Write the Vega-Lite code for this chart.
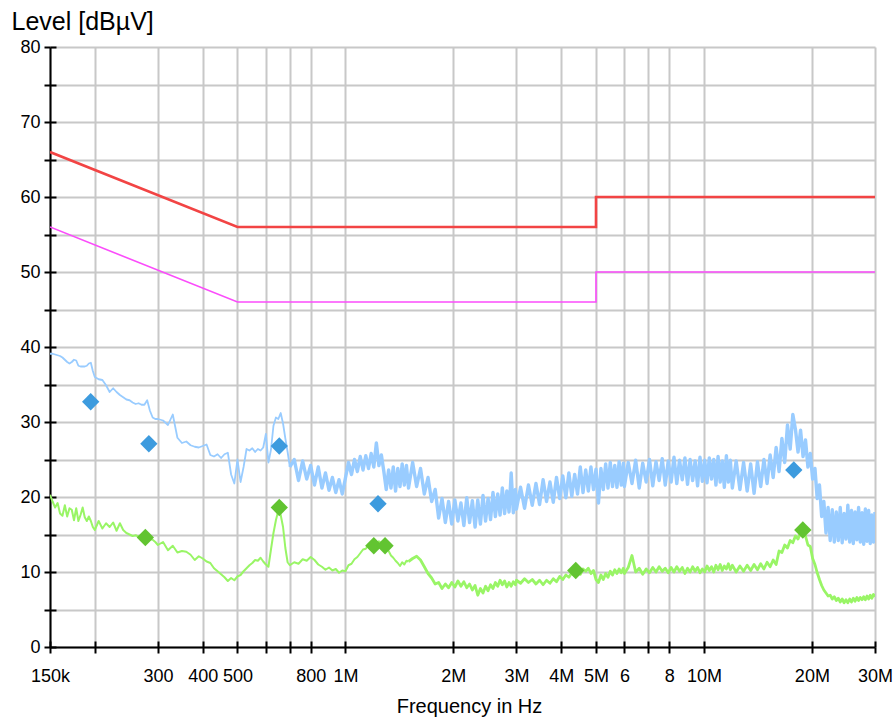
{
  "$schema": "https://vega.github.io/schema/vega-lite/v6.json",
  "width": 825,
  "height": 600,
  "autosize": {"type": "none"},
  "padding": {"left": 50, "top": 47, "right": 18, "bottom": 70},
  "background": "white",
  "config": {
    "view": {"stroke": null},
    "font": "Liberation Sans"
  },
  "datasets": {
    "limits": [
      {"i": 1, "f": 150000, "qp": 66, "av": 56},
      {"i": 2, "f": 500000, "qp": 56, "av": 46},
      {"i": 3, "f": 5000000, "qp": 56, "av": 46},
      {"i": 4, "f": 5000000, "qp": 60, "av": 50},
      {"i": 5, "f": 30000000, "qp": 60, "av": 50}
    ],
    "finals": [
      {"f": 194800, "lvl": 32.7, "det": "QuasiPeak"},
      {"f": 283000, "lvl": 27.1, "det": "QuasiPeak"},
      {"f": 654000, "lvl": 26.8, "det": "QuasiPeak"},
      {"f": 1233000, "lvl": 19.1, "det": "QuasiPeak"},
      {"f": 17810000, "lvl": 23.6, "det": "QuasiPeak"},
      {"f": 276700, "lvl": 14.6, "det": "Average"},
      {"f": 654000, "lvl": 18.6, "det": "Average"},
      {"f": 1200000, "lvl": 13.5, "det": "Average"},
      {"f": 1290000, "lvl": 13.5, "det": "Average"},
      {"f": 4390000, "lvl": 10.2, "det": "Average"},
      {"f": 18870000, "lvl": 15.6, "det": "Average"}
    ],
    "scan": [
      {"f": 150000, "pk": 39.1, "av": 20.3},
      {"f": 152500, "pk": 39.1, "av": 19.4},
      {"f": 155000, "pk": 39.0, "av": 18.6},
      {"f": 157500, "pk": 38.9, "av": 19.2},
      {"f": 160000, "pk": 38.8, "av": 17.8},
      {"f": 162500, "pk": 38.6, "av": 17.5},
      {"f": 165000, "pk": 38.3, "av": 18.9},
      {"f": 167500, "pk": 38.0, "av": 17.4},
      {"f": 170000, "pk": 37.8, "av": 18.5},
      {"f": 172500, "pk": 38.0, "av": 18.3},
      {"f": 175000, "pk": 38.3, "av": 16.9},
      {"f": 177500, "pk": 38.2, "av": 18.5},
      {"f": 180000, "pk": 37.5, "av": 16.8},
      {"f": 182500, "pk": 37.4, "av": 17.6},
      {"f": 185000, "pk": 37.4, "av": 18.6},
      {"f": 187500, "pk": 37.4, "av": 17.3},
      {"f": 190000, "pk": 37.5, "av": 16.8},
      {"f": 192500, "pk": 37.8, "av": 17.4},
      {"f": 195000, "pk": 37.9, "av": 16.8},
      {"f": 197500, "pk": 36.8, "av": 16.0},
      {"f": 200000, "pk": 36.0, "av": 15.6},
      {"f": 205000, "pk": 35.7, "av": 16.8},
      {"f": 210000, "pk": 35.6, "av": 15.8},
      {"f": 215000, "pk": 34.9, "av": 16.5},
      {"f": 220000, "pk": 34.0, "av": 16.0},
      {"f": 225000, "pk": 34.5, "av": 16.6},
      {"f": 230000, "pk": 34.0, "av": 15.5},
      {"f": 235000, "pk": 33.6, "av": 16.5},
      {"f": 240000, "pk": 33.3, "av": 15.6},
      {"f": 245000, "pk": 33.0, "av": 15.2},
      {"f": 250000, "pk": 32.9, "av": 15.0},
      {"f": 255000, "pk": 32.6, "av": 14.8},
      {"f": 260000, "pk": 32.4, "av": 14.9},
      {"f": 265000, "pk": 32.5, "av": 14.7},
      {"f": 270000, "pk": 32.3, "av": 14.8},
      {"f": 275000, "pk": 32.3, "av": 14.7},
      {"f": 280000, "pk": 32.9, "av": 14.6},
      {"f": 285000, "pk": 31.5, "av": 14.4},
      {"f": 290000, "pk": 30.6, "av": 14.3},
      {"f": 295000, "pk": 30.4, "av": 14.0},
      {"f": 300000, "pk": 30.4, "av": 13.6},
      {"f": 310000, "pk": 30.2, "av": 14.0},
      {"f": 320000, "pk": 29.6, "av": 12.9},
      {"f": 330000, "pk": 31.0, "av": 13.5},
      {"f": 340000, "pk": 27.9, "av": 12.6},
      {"f": 350000, "pk": 27.2, "av": 12.8},
      {"f": 360000, "pk": 27.4, "av": 12.7},
      {"f": 370000, "pk": 26.9, "av": 12.3},
      {"f": 380000, "pk": 26.7, "av": 11.6},
      {"f": 390000, "pk": 26.6, "av": 12.1},
      {"f": 400000, "pk": 26.8, "av": 11.8},
      {"f": 410000, "pk": 27.0, "av": 11.4},
      {"f": 420000, "pk": 25.6, "av": 11.2},
      {"f": 430000, "pk": 25.4, "av": 10.5},
      {"f": 440000, "pk": 25.7, "av": 10.1},
      {"f": 450000, "pk": 25.2, "av": 9.7},
      {"f": 460000, "pk": 25.7, "av": 9.3},
      {"f": 470000, "pk": 25.9, "av": 8.8},
      {"f": 480000, "pk": 23.0, "av": 9.2},
      {"f": 490000, "pk": 21.8, "av": 8.9},
      {"f": 500000, "pk": 25.0, "av": 9.4},
      {"f": 510000, "pk": 22.0, "av": 9.6},
      {"f": 520000, "pk": 24.0, "av": 10.1},
      {"f": 530000, "pk": 26.4, "av": 10.5},
      {"f": 540000, "pk": 26.2, "av": 10.9},
      {"f": 550000, "pk": 26.5, "av": 11.2},
      {"f": 560000, "pk": 26.0, "av": 11.6},
      {"f": 570000, "pk": 26.4, "av": 11.5},
      {"f": 580000, "pk": 26.2, "av": 11.9},
      {"f": 590000, "pk": 26.6, "av": 11.4},
      {"f": 600000, "pk": 28.4, "av": 11.0},
      {"f": 610000, "pk": 24.6, "av": 10.7},
      {"f": 620000, "pk": 26.3, "av": 13.0},
      {"f": 630000, "pk": 29.5, "av": 15.2},
      {"f": 640000, "pk": 30.6, "av": 16.9},
      {"f": 650000, "pk": 30.4, "av": 18.2},
      {"f": 660000, "pk": 31.2, "av": 17.6},
      {"f": 670000, "pk": 29.8, "av": 16.0},
      {"f": 680000, "pk": 27.8, "av": 13.2},
      {"f": 690000, "pk": 26.0, "av": 11.3},
      {"f": 700000, "pk": 24.0, "av": 10.9},
      {"f": 720000, "pk": 25.0, "av": 11.3},
      {"f": 740000, "pk": 22.2, "av": 11.1},
      {"f": 760000, "pk": 24.8, "av": 11.7},
      {"f": 780000, "pk": 22.4, "av": 11.5},
      {"f": 800000, "pk": 24.2, "av": 12.0},
      {"f": 820000, "pk": 21.6, "av": 11.6},
      {"f": 840000, "pk": 24.0, "av": 11.0},
      {"f": 860000, "pk": 21.2, "av": 10.7},
      {"f": 880000, "pk": 23.2, "av": 10.3},
      {"f": 900000, "pk": 20.9, "av": 10.6},
      {"f": 920000, "pk": 22.6, "av": 10.2},
      {"f": 940000, "pk": 20.6, "av": 10.4},
      {"f": 960000, "pk": 22.3, "av": 9.9},
      {"f": 980000, "pk": 20.4, "av": 10.2},
      {"f": 1000000, "pk": 22.5, "av": 10.1},
      {"f": 1020000, "pk": 24.6, "av": 10.9},
      {"f": 1040000, "pk": 23.0, "av": 11.1},
      {"f": 1060000, "pk": 25.0, "av": 11.7},
      {"f": 1080000, "pk": 23.4, "av": 12.0},
      {"f": 1100000, "pk": 25.4, "av": 12.5},
      {"f": 1120000, "pk": 23.6, "av": 13.0},
      {"f": 1140000, "pk": 25.5, "av": 13.1},
      {"f": 1160000, "pk": 23.8, "av": 13.6},
      {"f": 1180000, "pk": 25.8, "av": 13.8},
      {"f": 1200000, "pk": 24.0, "av": 14.0},
      {"f": 1220000, "pk": 27.2, "av": 13.9},
      {"f": 1240000, "pk": 24.2, "av": 14.1},
      {"f": 1260000, "pk": 25.6, "av": 13.8},
      {"f": 1280000, "pk": 23.4, "av": 13.9},
      {"f": 1300000, "pk": 21.0, "av": 13.2},
      {"f": 1320000, "pk": 23.6, "av": 12.8},
      {"f": 1340000, "pk": 21.2, "av": 12.2},
      {"f": 1360000, "pk": 24.0, "av": 11.9},
      {"f": 1380000, "pk": 20.8, "av": 11.5},
      {"f": 1400000, "pk": 23.8, "av": 11.2},
      {"f": 1420000, "pk": 21.4, "av": 10.8},
      {"f": 1440000, "pk": 24.4, "av": 11.3},
      {"f": 1460000, "pk": 21.6, "av": 11.0},
      {"f": 1480000, "pk": 24.2, "av": 11.5},
      {"f": 1500000, "pk": 21.2, "av": 11.4},
      {"f": 1540000, "pk": 24.6, "av": 11.8},
      {"f": 1580000, "pk": 21.4, "av": 12.1},
      {"f": 1620000, "pk": 23.8, "av": 11.6},
      {"f": 1660000, "pk": 20.4, "av": 10.7},
      {"f": 1700000, "pk": 22.6, "av": 9.8},
      {"f": 1740000, "pk": 19.4, "av": 9.2},
      {"f": 1780000, "pk": 21.0, "av": 8.4},
      {"f": 1820000, "pk": 17.2, "av": 8.6},
      {"f": 1860000, "pk": 19.8, "av": 7.8},
      {"f": 1900000, "pk": 16.6, "av": 8.4},
      {"f": 1940000, "pk": 19.4, "av": 7.9},
      {"f": 1980000, "pk": 16.4, "av": 8.6},
      {"f": 2020000, "pk": 19.6, "av": 8.0},
      {"f": 2060000, "pk": 16.8, "av": 8.8},
      {"f": 2100000, "pk": 19.2, "av": 8.1},
      {"f": 2140000, "pk": 16.2, "av": 8.7},
      {"f": 2180000, "pk": 19.9, "av": 7.9},
      {"f": 2220000, "pk": 16.6, "av": 8.4},
      {"f": 2260000, "pk": 19.5, "av": 7.6},
      {"f": 2300000, "pk": 16.0, "av": 8.2},
      {"f": 2340000, "pk": 19.6, "av": 6.9},
      {"f": 2380000, "pk": 16.4, "av": 7.8},
      {"f": 2420000, "pk": 20.2, "av": 7.2},
      {"f": 2460000, "pk": 16.8, "av": 8.1},
      {"f": 2500000, "pk": 19.8, "av": 7.5},
      {"f": 2540000, "pk": 17.0, "av": 8.3},
      {"f": 2580000, "pk": 20.6, "av": 7.8},
      {"f": 2620000, "pk": 17.4, "av": 8.6},
      {"f": 2660000, "pk": 20.4, "av": 8.1},
      {"f": 2700000, "pk": 17.6, "av": 8.9},
      {"f": 2740000, "pk": 21.2, "av": 8.3},
      {"f": 2780000, "pk": 17.8, "av": 8.8},
      {"f": 2820000, "pk": 20.8, "av": 8.0},
      {"f": 2860000, "pk": 18.0, "av": 8.6},
      {"f": 2900000, "pk": 23.2, "av": 8.1},
      {"f": 2940000, "pk": 17.9, "av": 8.7},
      {"f": 2980000, "pk": 21.0, "av": 8.3},
      {"f": 3000000, "pk": 18.4, "av": 8.9},
      {"f": 3080000, "pk": 21.3, "av": 8.5},
      {"f": 3160000, "pk": 18.5, "av": 9.1},
      {"f": 3240000, "pk": 21.6, "av": 8.6},
      {"f": 3320000, "pk": 18.9, "av": 9.0},
      {"f": 3400000, "pk": 21.8, "av": 8.4},
      {"f": 3480000, "pk": 19.0, "av": 8.9},
      {"f": 3560000, "pk": 22.3, "av": 8.3},
      {"f": 3640000, "pk": 19.4, "av": 8.9},
      {"f": 3720000, "pk": 22.0, "av": 8.5},
      {"f": 3800000, "pk": 19.3, "av": 9.1},
      {"f": 3880000, "pk": 22.6, "av": 8.7},
      {"f": 3960000, "pk": 19.8, "av": 9.4},
      {"f": 4040000, "pk": 22.8, "av": 9.0},
      {"f": 4120000, "pk": 19.9, "av": 9.6},
      {"f": 4200000, "pk": 23.2, "av": 9.3},
      {"f": 4280000, "pk": 20.1, "av": 9.9},
      {"f": 4360000, "pk": 23.0, "av": 9.5},
      {"f": 4440000, "pk": 20.4, "av": 10.0},
      {"f": 4520000, "pk": 24.0, "av": 9.7},
      {"f": 4600000, "pk": 20.6, "av": 10.4},
      {"f": 4680000, "pk": 23.6, "av": 10.1},
      {"f": 4760000, "pk": 20.8, "av": 10.5},
      {"f": 4840000, "pk": 24.0, "av": 9.8},
      {"f": 4920000, "pk": 21.0, "av": 10.2},
      {"f": 5000000, "pk": 23.7, "av": 9.0},
      {"f": 5080000, "pk": 19.2, "av": 8.6},
      {"f": 5160000, "pk": 23.8, "av": 9.6},
      {"f": 5240000, "pk": 21.0, "av": 9.0},
      {"f": 5320000, "pk": 24.4, "av": 9.8},
      {"f": 5400000, "pk": 21.2, "av": 9.3},
      {"f": 5480000, "pk": 24.6, "av": 10.1},
      {"f": 5560000, "pk": 21.4, "av": 9.6},
      {"f": 5640000, "pk": 24.2, "av": 10.3},
      {"f": 5720000, "pk": 21.3, "av": 9.8},
      {"f": 5800000, "pk": 24.7, "av": 10.4},
      {"f": 5880000, "pk": 21.6, "av": 9.9},
      {"f": 5960000, "pk": 24.5, "av": 10.5},
      {"f": 6000000, "pk": 21.4, "av": 9.8},
      {"f": 6150000, "pk": 24.6, "av": 10.6},
      {"f": 6300000, "pk": 21.8, "av": 12.2},
      {"f": 6450000, "pk": 24.9, "av": 10.0},
      {"f": 6600000, "pk": 21.2, "av": 10.5},
      {"f": 6750000, "pk": 24.5, "av": 9.7},
      {"f": 6900000, "pk": 22.0, "av": 10.4},
      {"f": 7050000, "pk": 25.0, "av": 9.9},
      {"f": 7200000, "pk": 21.5, "av": 10.6},
      {"f": 7350000, "pk": 24.7, "av": 10.0},
      {"f": 7500000, "pk": 22.2, "av": 10.7},
      {"f": 7650000, "pk": 25.1, "av": 10.1},
      {"f": 7800000, "pk": 21.6, "av": 10.5},
      {"f": 7950000, "pk": 24.8, "av": 9.9},
      {"f": 8100000, "pk": 22.0, "av": 10.6},
      {"f": 8250000, "pk": 25.3, "av": 10.0},
      {"f": 8400000, "pk": 21.8, "av": 10.7},
      {"f": 8550000, "pk": 24.9, "av": 10.1},
      {"f": 8700000, "pk": 22.3, "av": 10.6},
      {"f": 8850000, "pk": 25.2, "av": 9.8},
      {"f": 9000000, "pk": 21.7, "av": 10.5},
      {"f": 9150000, "pk": 25.0, "av": 10.0},
      {"f": 9300000, "pk": 22.2, "av": 10.7},
      {"f": 9450000, "pk": 24.8, "av": 10.1},
      {"f": 9600000, "pk": 21.5, "av": 10.6},
      {"f": 9750000, "pk": 25.3, "av": 9.9},
      {"f": 9900000, "pk": 22.1, "av": 10.4},
      {"f": 10050000, "pk": 24.9, "av": 10.0},
      {"f": 10200000, "pk": 21.9, "av": 10.8},
      {"f": 10350000, "pk": 25.2, "av": 10.2},
      {"f": 10500000, "pk": 22.4, "av": 10.7},
      {"f": 10650000, "pk": 25.0, "av": 10.0},
      {"f": 10800000, "pk": 21.6, "av": 10.9},
      {"f": 10950000, "pk": 25.4, "av": 10.3},
      {"f": 11100000, "pk": 22.0, "av": 11.0},
      {"f": 11250000, "pk": 24.8, "av": 10.2},
      {"f": 11400000, "pk": 21.3, "av": 10.8},
      {"f": 11550000, "pk": 25.5, "av": 10.4},
      {"f": 11700000, "pk": 22.0, "av": 11.1},
      {"f": 11850000, "pk": 24.9, "av": 10.3},
      {"f": 12000000, "pk": 21.2, "av": 10.9},
      {"f": 12300000, "pk": 24.8, "av": 10.0},
      {"f": 12600000, "pk": 21.0, "av": 10.8},
      {"f": 12900000, "pk": 24.6, "av": 10.1},
      {"f": 13200000, "pk": 20.8, "av": 10.9},
      {"f": 13500000, "pk": 24.4, "av": 10.2},
      {"f": 13800000, "pk": 20.5, "av": 11.0},
      {"f": 14100000, "pk": 24.7, "av": 10.3},
      {"f": 14400000, "pk": 21.4, "av": 11.1},
      {"f": 14700000, "pk": 25.0, "av": 10.4},
      {"f": 15000000, "pk": 21.8, "av": 11.3},
      {"f": 15300000, "pk": 25.6, "av": 10.7},
      {"f": 15600000, "pk": 22.6, "av": 11.6},
      {"f": 15900000, "pk": 26.6, "av": 11.0},
      {"f": 16200000, "pk": 23.4, "av": 12.8},
      {"f": 16500000, "pk": 27.8, "av": 12.6},
      {"f": 16800000, "pk": 24.6, "av": 13.6},
      {"f": 17100000, "pk": 29.6, "av": 13.2},
      {"f": 17400000, "pk": 26.4, "av": 14.2},
      {"f": 17700000, "pk": 31.0, "av": 13.9},
      {"f": 18000000, "pk": 29.0, "av": 14.8},
      {"f": 18300000, "pk": 26.0, "av": 14.4},
      {"f": 18600000, "pk": 28.9, "av": 15.3},
      {"f": 18900000, "pk": 25.4, "av": 14.9},
      {"f": 19200000, "pk": 27.6, "av": 14.8},
      {"f": 19500000, "pk": 24.0, "av": 13.6},
      {"f": 19800000, "pk": 25.8, "av": 13.4},
      {"f": 20100000, "pk": 22.4, "av": 11.8},
      {"f": 20400000, "pk": 23.8, "av": 11.0},
      {"f": 20700000, "pk": 19.8, "av": 9.9},
      {"f": 21000000, "pk": 21.6, "av": 9.0},
      {"f": 21300000, "pk": 17.4, "av": 8.2},
      {"f": 21600000, "pk": 19.4, "av": 7.6},
      {"f": 21900000, "pk": 15.2, "av": 7.2},
      {"f": 22200000, "pk": 18.6, "av": 6.8},
      {"f": 22500000, "pk": 14.2, "av": 6.9},
      {"f": 22800000, "pk": 18.3, "av": 6.4},
      {"f": 23100000, "pk": 14.0, "av": 6.7},
      {"f": 23400000, "pk": 18.0, "av": 6.2},
      {"f": 23700000, "pk": 14.2, "av": 6.5},
      {"f": 24000000, "pk": 18.6, "av": 6.0},
      {"f": 24300000, "pk": 13.9, "av": 6.4},
      {"f": 24600000, "pk": 17.8, "av": 5.9},
      {"f": 24900000, "pk": 14.4, "av": 6.3},
      {"f": 25200000, "pk": 18.9, "av": 5.9},
      {"f": 25500000, "pk": 14.0, "av": 6.4},
      {"f": 25800000, "pk": 18.2, "av": 6.0},
      {"f": 26100000, "pk": 13.8, "av": 6.5},
      {"f": 26400000, "pk": 18.0, "av": 6.1},
      {"f": 26700000, "pk": 14.3, "av": 6.6},
      {"f": 27000000, "pk": 18.6, "av": 6.2},
      {"f": 27300000, "pk": 14.0, "av": 6.6},
      {"f": 27600000, "pk": 17.9, "av": 6.3},
      {"f": 27900000, "pk": 13.7, "av": 6.7},
      {"f": 28200000, "pk": 18.4, "av": 6.3},
      {"f": 28500000, "pk": 14.1, "av": 6.8},
      {"f": 28800000, "pk": 18.2, "av": 6.4},
      {"f": 29100000, "pk": 13.8, "av": 6.9},
      {"f": 29400000, "pk": 17.6, "av": 6.5},
      {"f": 29700000, "pk": 14.0, "av": 7.0},
      {"f": 30000000, "pk": 18.0, "av": 6.7}
    ]
  },
  "layer": [
    {
      "data": {"name": "limits"},
      "mark": {"type": "line", "color": "#f24444", "strokeWidth": 2.6, "clip": true},
      "encoding": {
        "x": {
          "field": "f",
          "type": "quantitative",
          "scale": {"type": "log", "domain": [150000, 30000000], "nice": false},
          "axis": {
            "orient": "bottom",
            "values": [150000, 200000, 300000, 400000, 500000, 600000, 700000, 800000, 1000000, 2000000, 3000000, 4000000, 5000000, 6000000, 7000000, 8000000, 10000000, 20000000, 30000000],
            "labelExpr": "datum.value == 150000 ? '150k' : datum.value == 300000 ? '300' : datum.value == 400000 ? '400' : datum.value == 500000 ? '500' : datum.value == 800000 ? '800' : datum.value == 1000000 ? '1M' : datum.value == 2000000 ? '2M' : datum.value == 3000000 ? '3M' : datum.value == 4000000 ? '4M' : datum.value == 5000000 ? '5M' : datum.value == 6000000 ? '6' : datum.value == 8000000 ? '8' : datum.value == 10000000 ? '10M' : datum.value == 20000000 ? '20M' : datum.value == 30000000 ? '30M' : ''",
            "labelOverlap": false,
            "labelFlush": false,
            "labelBound": false,
            "labelFont": "Liberation Sans",
            "labelFontSize": 18,
            "labelColor": "#000000",
            "labelPadding": 14,
            "tickSize": 6,
            "tickColor": "#000000",
            "tickWidth": 2,
            "domainColor": "#000000",
            "domainWidth": 2,
            "grid": true,
            "gridColor": "#c8c8c8",
            "gridWidth": 2,
            "title": "Frequency in Hz",
            "titleFont": "Liberation Sans",
            "titleFontSize": 20,
            "titleFontWeight": "normal",
            "titleColor": "#000000",
            "titleBaseline": "alphabetic",
            "titleX": 419,
            "titleY": 65
          }
        },
        "y": {
          "field": "qp",
          "type": "quantitative",
          "scale": {"domain": [0, 80], "nice": false},
          "axis": {
            "orient": "left",
            "values": [0, 5, 10, 15, 20, 25, 30, 35, 40, 45, 50, 55, 60, 65, 70, 75, 80],
            "labelExpr": "datum.value % 10 == 0 ? datum.label : ''",
            "labelOverlap": false,
            "labelFlush": false,
            "labelFont": "Liberation Sans",
            "labelFontSize": 18,
            "labelColor": "#000000",
            "labelPadding": 4,
            "tickSize": 6,
            "tickColor": "#000000",
            "tickWidth": 2,
            "domainColor": "#000000",
            "domainWidth": 2,
            "grid": true,
            "gridColor": "#c8c8c8",
            "gridWidth": 2,
            "title": "Level [dBµV]",
            "titleFont": "Liberation Sans",
            "titleFontSize": 25,
            "titleFontWeight": "normal",
            "titleColor": "#000000",
            "titleAngle": 0,
            "titleAlign": "left",
            "titleBaseline": "alphabetic",
            "titleX": -39,
            "titleY": -18
          }
        },
        "order": {"field": "i"}
      }
    },
    {
      "data": {"name": "limits"},
      "mark": {"type": "line", "color": "#fb4cfb", "strokeWidth": 1.6, "clip": true},
      "encoding": {
        "x": {
          "field": "f",
          "type": "quantitative",
          "axis": {
            "orient": "bottom",
            "values": [150000, 200000, 300000, 400000, 500000, 600000, 700000, 800000, 1000000, 2000000, 3000000, 4000000, 5000000, 6000000, 7000000, 8000000, 10000000, 20000000, 30000000],
            "labels": false,
            "domain": false,
            "grid": false,
            "title": null,
            "tickSize": -6,
            "tickColor": "#000000",
            "tickWidth": 2
          }
        },
        "y": {
          "field": "av",
          "type": "quantitative",
          "axis": {
            "orient": "left",
            "values": [0, 5, 10, 15, 20, 25, 30, 35, 40, 45, 50, 55, 60, 65, 70, 75, 80],
            "labels": false,
            "domain": false,
            "grid": false,
            "title": null,
            "tickSize": -6,
            "tickColor": "#000000",
            "tickWidth": 2
          }
        },
        "order": {"field": "i"}
      }
    },
    {
      "data": {"name": "scan"},
      "transform": [{"filter": "datum.f <= 700000"}],
      "mark": {"type": "line", "color": "#99ccff", "strokeWidth": 1.8, "strokeJoin": "round", "clip": true},
      "encoding": {
        "x": {"field": "f", "type": "quantitative", "axis": null},
        "y": {"field": "pk", "type": "quantitative", "axis": null}
      }
    },
    {
      "data": {"name": "scan"},
      "transform": [{"filter": "datum.f >= 700000"}],
      "mark": {"type": "line", "color": "#99ccff", "strokeWidth": 3.4, "strokeJoin": "round", "clip": true},
      "encoding": {
        "x": {"field": "f", "type": "quantitative", "axis": null},
        "y": {"field": "pk", "type": "quantitative", "axis": null}
      }
    },
    {
      "data": {"name": "scan"},
      "transform": [{"filter": "datum.f <= 1500000"}],
      "mark": {"type": "line", "color": "#99f566", "strokeWidth": 2, "strokeJoin": "round", "clip": true},
      "encoding": {
        "x": {"field": "f", "type": "quantitative", "axis": null},
        "y": {"field": "av", "type": "quantitative", "axis": null}
      }
    },
    {
      "data": {"name": "scan"},
      "transform": [{"filter": "datum.f >= 1500000"}],
      "mark": {"type": "line", "color": "#99f566", "strokeWidth": 2.8, "strokeJoin": "round", "clip": true},
      "encoding": {
        "x": {"field": "f", "type": "quantitative", "axis": null},
        "y": {"field": "av", "type": "quantitative", "axis": null}
      }
    },
    {
      "data": {"name": "finals"},
      "mark": {"type": "point", "shape": "diamond", "filled": true, "size": 300, "opacity": 1, "strokeWidth": 0},
      "encoding": {
        "x": {"field": "f", "type": "quantitative", "axis": null},
        "y": {"field": "lvl", "type": "quantitative", "axis": null},
        "color": {
          "field": "det",
          "type": "nominal",
          "scale": {"domain": ["QuasiPeak", "Average"], "range": ["#3d9bde", "#62c431"]},
          "legend": null
        }
      }
    }
  ],
  "resolve": {"axis": {"x": "independent", "y": "independent"}}
}
